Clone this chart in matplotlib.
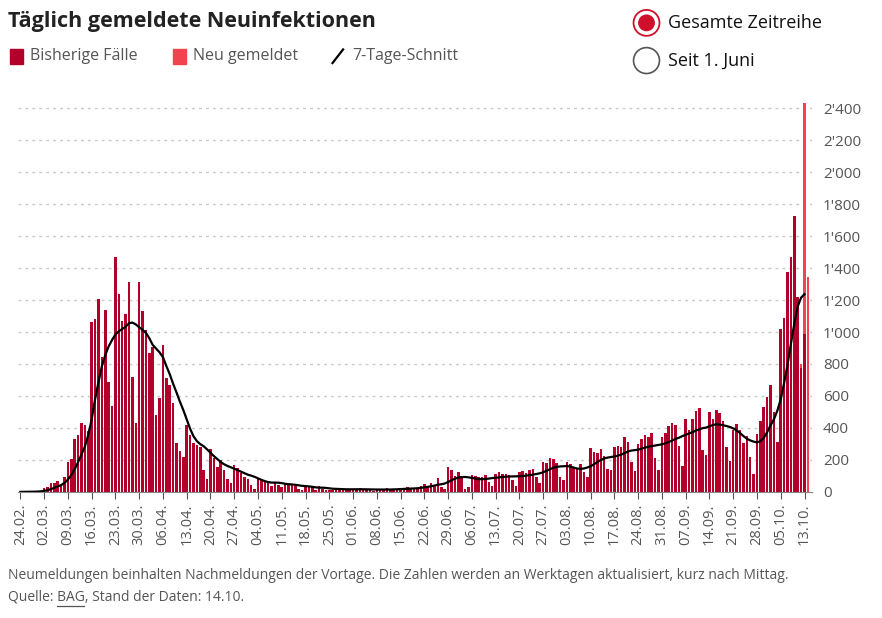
import matplotlib
matplotlib.use("Agg")
import matplotlib.pyplot as plt
import numpy as np
import pandas as pd
from matplotlib.patches import Rectangle, Ellipse
from matplotlib.lines import Line2D

plt.rcParams['font.family'] = ['Open Sans', 'DejaVu Sans']

# daily cases from 24.02 (weeks starting Monday)
cases = [
    0, 1, 1, 2, 3, 5, 8,
    23, 29, 54, 54, 69, 44, 96,
    187, 206, 328, 353, 428, 418, 380,
    1062, 1083, 1208, 843, 1140, 690, 540,
    1470, 1240, 1070, 1110, 1310, 720, 430,
    1310, 1130, 1010, 870, 906, 480, 590,
    920, 713, 667, 553, 303, 256, 216,
    418, 355, 303, 293, 283, 137, 79,
    266, 210, 154, 200, 137, 79, 58,
    168, 148, 120, 96, 79, 44, 21,
    85, 75, 71, 54, 40, 60, 45,
    30, 55, 50, 45, 40, 20, 15,
    35, 40, 30, 10, 35, 20, 15,
    10, 15, 20, 25, 15, 10, 20,
    10, 15, 25, 20, 15, 10, 5,
    15, 20, 15, 25, 15, 10, 20,
    20, 25, 30, 25, 20, 20, 35,
    50, 40, 58, 45, 85, 33, 17,
    155, 135, 98, 123, 98, 19, 33,
    103, 100, 95, 95, 107, 65, 40,
    112, 125, 112, 112, 107, 73, 37,
    123, 133, 120, 138, 141, 92, 54,
    185, 179, 214, 204, 179, 94, 77,
    189, 173, 148, 144, 175, 123, 94,
    272, 252, 241, 266, 227, 144, 137,
    279, 289, 279, 345, 310, 189, 131,
    298, 331, 356, 345, 366, 210, 137,
    341, 366, 411, 428, 418, 287, 162,
    459, 387, 459, 505, 525, 262, 231,
    497, 453, 511, 491, 442, 278, 195,
    387, 422, 387, 303, 351, 220, 112,
    361, 442, 531, 594, 667, 501, 310,
    1016, 1089, 1374, 1468, 1727, 1222, 772,
    989, 0,
]
# newly reported on top (last days)
new_reported = {230: 30, 231: 1443, 232: 1344}

tick_labels = ["24.02.", "02.03.", "09.03.", "16.03.", "23.03.", "30.03.", "06.04.", "13.04.",
               "20.04.", "27.04.", "04.05.", "11.05.", "18.05.", "25.05.", "01.06.", "08.06.",
               "15.06.", "22.06.", "29.06.", "06.07.", "13.07.", "20.07.", "27.07.", "03.08.",
               "10.08.", "17.08.", "24.08.", "31.08.", "07.09.", "14.09.", "21.09.", "28.09.",
               "05.10.", "13.10."]

DARK = "#b3002b"
LIGHT = "#f2444e"
GREY = "#555555"

n = len(cases)
x = np.arange(n)
cases = np.array(cases, dtype=float)
newv = np.zeros(n)
for k, v in new_reported.items():
    newv[k] = v

avg = pd.Series(cases[:232]).rolling(7, min_periods=1).mean()
avg = avg.rolling(3, center=True, min_periods=1).mean()

fig = plt.figure(figsize=(8.82, 6.18), dpi=100)
ax = fig.add_axes([0.0204, 0.204, 0.9002, 0.634])

ax.bar(x, cases, width=0.75, color=DARK, linewidth=0, zorder=2)
ax.bar(x, newv, bottom=cases, width=0.75, color=LIGHT, linewidth=0, zorder=2)
ax.plot(x[:232], avg.values, color="black", lw=1.6, zorder=3)

ax.set_xlim(-0.7, 233.2)
ax.set_ylim(0, 2450)
yt = np.arange(0, 2401, 200)
ax.set_yticks(yt)
ax.set_yticklabels([f"{v:,}".replace(",", "'") for v in yt], color=GREY, fontsize=11)
ax.yaxis.tick_right()
ax.tick_params(axis='y', length=0, pad=8)
ax.grid(axis='y', linestyle=(0, (2, 3)), color="#c8c8c8", lw=1, zorder=0)
ax.set_xticks(np.arange(0, 232, 7))
ax.set_xticklabels(tick_labels, rotation=90, fontsize=10.5, color=GREY)
ax.tick_params(axis='x', length=5, color="#555555", pad=3)
for s in ['top', 'right', 'left']:
    ax.spines[s].set_visible(False)
ax.spines['bottom'].set_color("#888888")

fig.text(0.009, 0.965, "Täglich gemeldete Neuinfektionen", fontsize=15.5, fontweight='bold',
         color="#222222", va='center')
# legend
fig.patches.append(Rectangle((0.011, 0.897), 0.015, 0.024, transform=fig.transFigure, color=DARK))
fig.text(0.034, 0.909, "Bisherige Fälle", fontsize=11.5, color=GREY, va='center')
fig.patches.append(Rectangle((0.196, 0.897), 0.015, 0.024, transform=fig.transFigure, color=LIGHT))
fig.text(0.219, 0.909, "Neu gemeldet", fontsize=11.5, color=GREY, va='center')
fig.lines.append(Line2D([0.377, 0.389], [0.898, 0.920], transform=fig.transFigure, color='black', lw=1.6))
fig.text(0.399, 0.909, "7-Tage-Schnitt", fontsize=11.5, color=GREY, va='center')
# radio buttons
asp = 882 / 618
rw = 0.0147
fig.patches.append(Ellipse((0.733, 0.963), 2 * rw, 2 * rw * asp, transform=fig.transFigure, fc='white', ec='#d0102a', lw=1.3))
fig.patches.append(Ellipse((0.733, 0.963), 1.3 * rw, 1.3 * rw * asp, transform=fig.transFigure, fc='#d0102a', ec='none'))
fig.text(0.757, 0.962, "Gesamte Zeitreihe", fontsize=13, color="#111111", va='center', fontweight='medium')
fig.patches.append(Ellipse((0.733, 0.902), 2 * rw, 2 * rw * asp, transform=fig.transFigure, fc='white', ec='#555555', lw=1.2))
fig.text(0.757, 0.901, "Seit 1. Juni", fontsize=13, color="#111111", va='center', fontweight='medium')
# footer
fig.text(0.009, 0.068, "Neumeldungen beinhalten Nachmeldungen der Vortage. Die Zahlen werden an Werktagen aktualisiert, kurz nach Mittag.",
         fontsize=10, color=GREY, va='center')
fig.text(0.009, 0.034, "Quelle: BAG, Stand der Daten: 14.10.", fontsize=10, color=GREY, va='center')
fig.lines.append(Line2D([0.065, 0.095], [0.019, 0.019], transform=fig.transFigure, color=GREY, lw=0.9))

fig.savefig("out.png", dpi=100)
